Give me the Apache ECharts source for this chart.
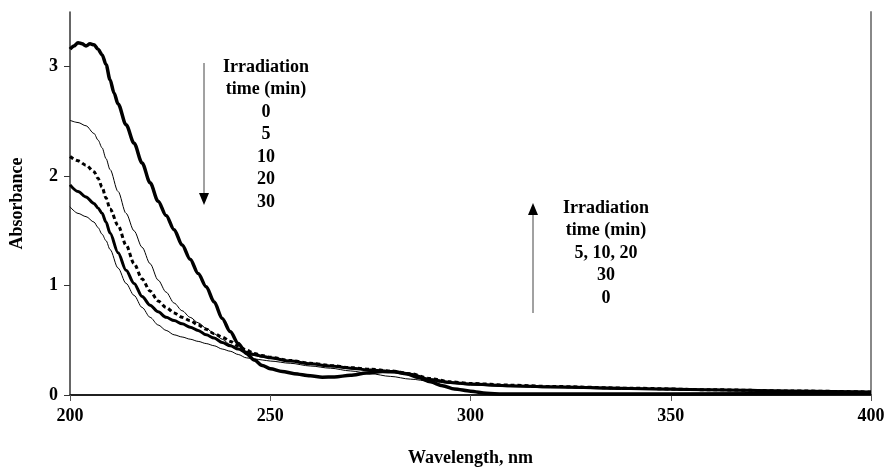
<!DOCTYPE html>
<html>
<head>
<meta charset="utf-8">
<script src="https://cdn.jsdelivr.net/npm/echarts@6/dist/echarts.min.js"></script>
<style>
  html, body { margin: 0; padding: 0; background: #fff; }
  #chart { width: 890px; height: 472px; }
</style>
</head>
<body>
<div id="chart"></div>
<script>
// wavelength grid of the 0 min spectrum (it has the little bumps at the top)
const wl0 = [200, 201, 202, 203, 204, 205, 206, 207, 208, 209, 210, 211, 212, 214, 216, 218, 220, 222, 224, 226, 228, 230,
  232, 234, 236, 238, 240, 242, 244, 246, 248, 250, 253, 256, 260, 263, 266, 270, 274, 278, 281, 284, 287, 290,
  293, 296, 300, 304, 308, 320, 350, 400]
const abs0 = [3.16, 3.19, 3.22, 3.21, 3.19, 3.21, 3.20, 3.16, 3.11, 3.02, 2.88, 2.76, 2.66, 2.47, 2.30, 2.12, 1.94, 1.77, 1.64, 1.51, 1.37, 1.24,
  1.11, 0.99, 0.85, 0.70, 0.58, 0.47, 0.38, 0.32, 0.27, 0.24, 0.215, 0.195, 0.175, 0.163, 0.165, 0.18, 0.20, 0.215, 0.212, 0.195, 0.16, 0.12,
  0.085, 0.055, 0.035, 0.015, 0.01, 0.008, 0.01, 0.015]

// common wavelength grid of the other spectra
const wl = [200, 202, 204, 206, 207, 208, 209, 210, 212, 214, 216, 218, 220, 222, 224, 226, 228, 230, 232, 234, 236, 238,
  240, 242, 244, 246, 248, 250, 255, 260, 265, 270, 275, 280, 285, 290, 295, 300, 310, 320, 340, 360, 380, 400]
const abs5 = [2.51, 2.49, 2.46, 2.39, 2.33, 2.26, 2.16, 2.06, 1.86, 1.66, 1.50, 1.35, 1.20, 1.05, 0.94, 0.84, 0.77, 0.71, 0.66, 0.61, 0.56, 0.51,
  0.46, 0.42, 0.38, 0.36, 0.345, 0.335, 0.31, 0.29, 0.27, 0.25, 0.232, 0.218, 0.192, 0.148, 0.118, 0.102, 0.088, 0.078, 0.062, 0.048, 0.037, 0.027]
const abs10 = [2.18, 2.14, 2.10, 2.04, 1.98, 1.90, 1.80, 1.70, 1.55, 1.37, 1.20, 1.06, 0.95, 0.86, 0.80, 0.75, 0.71, 0.68, 0.64, 0.60, 0.56, 0.53,
  0.49, 0.45, 0.41, 0.38, 0.36, 0.345, 0.315, 0.29, 0.27, 0.25, 0.235, 0.22, 0.195, 0.15, 0.12, 0.105, 0.09, 0.078, 0.062, 0.048, 0.037, 0.027]
const abs20 = [1.92, 1.86, 1.81, 1.75, 1.71, 1.66, 1.58, 1.48, 1.30, 1.14, 1.02, 0.90, 0.82, 0.76, 0.71, 0.68, 0.65, 0.62, 0.59, 0.55, 0.52, 0.48,
  0.45, 0.42, 0.39, 0.37, 0.355, 0.34, 0.31, 0.285, 0.265, 0.245, 0.228, 0.215, 0.19, 0.14, 0.115, 0.10, 0.085, 0.075, 0.06, 0.048, 0.037, 0.027]
const abs30 = [1.72, 1.66, 1.63, 1.58, 1.53, 1.47, 1.41, 1.33, 1.16, 1.02, 0.91, 0.80, 0.71, 0.64, 0.59, 0.55, 0.53, 0.51, 0.49, 0.47, 0.45, 0.42,
  0.40, 0.37, 0.34, 0.33, 0.32, 0.31, 0.29, 0.265, 0.245, 0.22, 0.195, 0.17, 0.145, 0.125, 0.105, 0.09, 0.075, 0.065, 0.05, 0.04, 0.03, 0.02]

const xTicks = [200, 250, 300, 350, 400]
const yTicks = [0, 1, 2, 3]

const serif = '"Liberation Serif", "Times New Roman", serif'
const pairs = (xs, ys) => xs.map((x, i) => [x, ys[i]])

const mkLine = (name, data, width, type) => ({
  name: name,
  type: 'line',
  data: data,
  showSymbol: false,
  smooth: 0.3,
  smoothMonotone: 'x',
  lineStyle: { color: '#000', width: width, type: type || 'solid' },
  animation: false,
})

const chart = echarts.init(document.getElementById('chart'))
const option = {
  animation: false,
  grid: { left: 70, right: 19, top: 12, bottom: 73 },
  xAxis: [
    {
      type: 'value',
      min: 200,
      max: 400,
      interval: 50,
      name: 'Wavelength, nm',
      nameLocation: 'middle',
      nameGap: 54,
      nameTextStyle: { fontFamily: serif, fontWeight: 'bold', fontSize: 18, color: '#000' },
      axisLine: { lineStyle: { color: '#808080', width: 2 } },
      axisTick: { show: true, length: 6, lineStyle: { color: '#555' }, customValues: xTicks },
      axisLabel: { customValues: xTicks, margin: 12, fontFamily: serif, fontWeight: 'bold', fontSize: 18, color: '#000' },
      splitLine: { show: false },
    },
    {
      type: 'value',
      position: 'top',
      min: 200,
      max: 400,
      axisLine: { show: true, lineStyle: { color: '#000', width: 1.5 } },
      axisTick: { show: false },
      axisLabel: { show: false },
      splitLine: { show: false },
    },
  ],
  yAxis: [
    {
      type: 'value',
      min: 0,
      max: 3.5,
      name: 'Absorbance',
      nameLocation: 'middle',
      nameGap: 44,
      nameTextStyle: { fontFamily: serif, fontWeight: 'bold', fontSize: 18, color: '#000' },
      axisLine: { show: true, lineStyle: { color: '#333', width: 1.5 } },
      axisTick: { show: true, length: 6, lineStyle: { color: '#333' }, customValues: yTicks },
      axisLabel: { customValues: yTicks, margin: 12, fontFamily: serif, fontWeight: 'bold', fontSize: 18, color: '#000' },
      splitLine: { show: false },
    },
    {
      type: 'value',
      position: 'right',
      min: 0,
      max: 3.5,
      axisLine: { show: true, lineStyle: { color: '#888', width: 2 } },
      axisTick: { show: false },
      axisLabel: { show: false },
      splitLine: { show: false },
    },
  ],
  series: [
    mkLine('5 min', pairs(wl, abs5), 1),
    mkLine('30 min', pairs(wl, abs30), 1),
    mkLine('10 min', pairs(wl, abs10), 3, [4, 3]),
    mkLine('20 min', pairs(wl, abs20), 3),
    mkLine('0 min', pairs(wl0, abs0), 3.5),
  ],
  graphic: [
    // down arrow + legend of the falling band
    { type: 'line', shape: { x1: 204, y1: 63, x2: 204, y2: 195 }, style: { stroke: '#444', lineWidth: 1 } },
    { type: 'polygon', shape: { points: [[204, 205], [199, 193], [209, 193]] }, style: { fill: '#000' } },
    {
      type: 'text', x: 266, y: 56,
      style: {
        text: 'Irradiation\ntime (min)\n0\n5\n10\n20\n30',
        font: 'bold 18px ' + serif, fill: '#000',
        align: 'center', verticalAlign: 'top', lineHeight: 22.5,
      },
    },
    // up arrow + legend of the rising band
    { type: 'line', shape: { x1: 533, y1: 313, x2: 533, y2: 214 }, style: { stroke: '#444', lineWidth: 1 } },
    { type: 'polygon', shape: { points: [[533, 203], [528, 215], [538, 215]] }, style: { fill: '#000' } },
    {
      type: 'text', x: 606, y: 197,
      style: {
        text: 'Irradiation\ntime (min)\n5, 10, 20\n30\n0',
        font: 'bold 18px ' + serif, fill: '#000',
        align: 'center', verticalAlign: 'top', lineHeight: 22.5,
      },
    },
  ],
}
chart.setOption(option)
</script>
</body>
</html>
